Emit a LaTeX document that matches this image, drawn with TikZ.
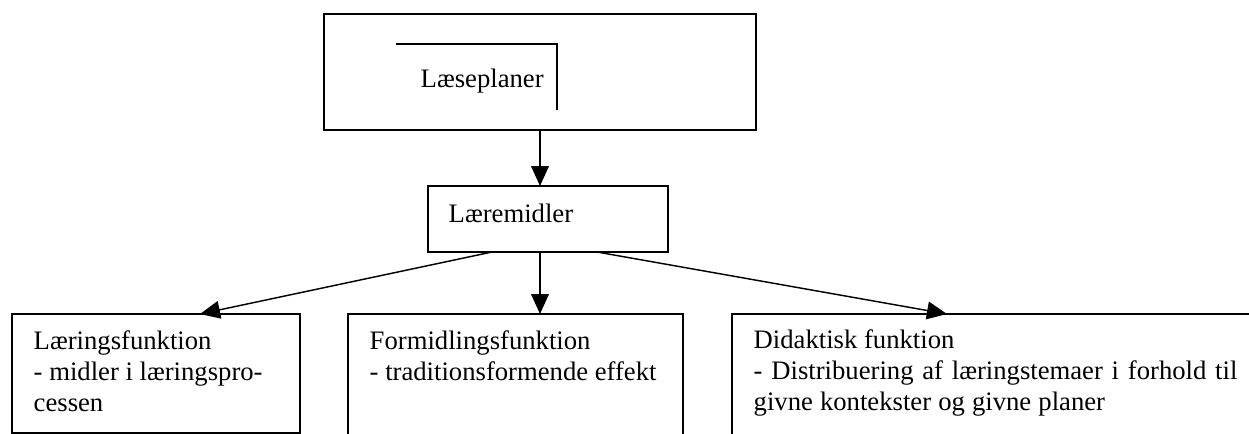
\documentclass[tikz,border=0pt]{standalone}
\usepackage{fontspec}
\setmainfont{Liberation Serif}
\usetikzlibrary{arrows.meta}
\begin{document}
\begin{tikzpicture}[x=0.45pt,y=-0.45pt,
  line width=0.65pt,
  label/.style={inner sep=0,anchor=base west,font=\fontsize{12}{13.9}\selectfont,align=left},
  link/.style={-{Triangle[length=9pt,width=8pt]}}]
\clip (0,0) rectangle (1249,434);
% boxes, drawn from their corners
\draw (324,14) rectangle (756,130);
\coordinate (plantop) at (540,130);
\draw (428,186) rectangle (668,252);
\coordinate (midtop) at (540,186);
\coordinate (midbotL) at (492,252);
\coordinate (midbot) at (540,252);
\coordinate (midbotR) at (597,252);
\draw (12,314) rectangle (300,433);
\draw (348,314) rectangle (683,460);
\draw (732,314) rectangle (1270,460);
\coordinate (lefttip) at (200,314);
\coordinate (centertip) at (540,314);
\coordinate (righttip) at (947,314);
% corner mark inside the top box
\coordinate (markA) at (396,44);
\coordinate (markB) at (557,44);
\coordinate (markC) at (557,110);
\draw (markA) -- (markB) -- (markC);
% texts (a multi-line node sits on the baseline of its last line)
\node[label] (plan) at (420,87) {Læseplaner};
\node[label] (midler) at (448,222) {Læremidler};
\node[label] (laer) at (33,411) {Læringsfunktion\\- midler i læringspro-\\cessen};
\node[label] (form) at (369,380) {Formidlingsfunktion\\- traditionsformende effekt};
\node[label] (did) at (753,410) {Didaktisk funktion\\{\spaceskip=3.95pt - Distribuering af læringstemaer i forhold til}\\{\spaceskip=3.2pt givne kontekster og givne planer}};
% connectors
\draw[link] (plantop) -- (midtop);
\draw[link] (midbotL) -- (lefttip);
\draw[link] (midbot) -- (centertip);
\draw[link] (midbotR) -- (righttip);
\end{tikzpicture}
\end{document}
